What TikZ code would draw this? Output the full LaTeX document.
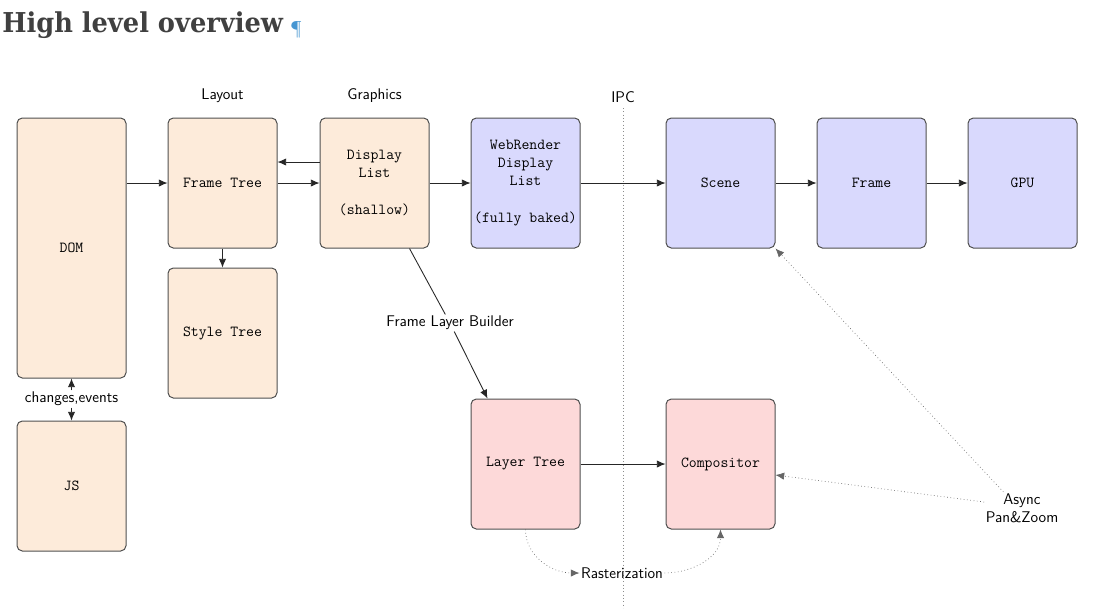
\documentclass[tikz,border=0pt]{standalone}
\usepackage{fontspec}
\newfontfamily\headfont{DejaVu Serif}
\usetikzlibrary{arrows.meta}
\definecolor{peach}{RGB}{253,235,218}
\definecolor{lilac}{RGB}{217,217,253}
\definecolor{pinkish}{RGB}{253,217,217}
\definecolor{boxline}{RGB}{80,80,80}
\definecolor{headgray}{RGB}{64,64,64}
\definecolor{pilcrow}{RGB}{70,150,210}
\tikzset{
  box/.style={draw=boxline, line width=0.75pt, rounded corners=4pt, minimum width=81.75pt, minimum height=97.5pt, inner sep=0pt, align=center, font=\fontsize{11.5}{13.6}\selectfont\ttfamily},
  orangebox/.style={box, fill=peach},
  bluebox/.style={box, fill=lilac},
  redbox/.style={box, fill=pinkish},
  lbl/.style={font=\fontsize{11.6}{13.5}\selectfont\sffamily, inner sep=1pt, align=center},
  conn/.style={draw=black!85, line width=0.65pt, -{Latex[length=6.5pt,width=5.5pt]}},
  dotconn/.style={draw=black!60, line width=0.5pt, dotted, -{Latex[length=6.5pt,width=5.5pt]}}
}
\begin{document}
\begin{tikzpicture}[x=0.75pt,y=-0.75pt]
\useasboundingbox[fill=white] (0,0) rectangle (1094,608);
% heading
\node[anchor=base west, inner sep=0pt, text=headgray, font=\headfont\bfseries\fontsize{20.5}{24}\selectfont] (head) at (2,32) {\scalebox{0.94}[1]{High level overview}};
\node[anchor=base west, inner sep=0pt, text=pilcrow, font=\fontsize{14}{16}\selectfont] (pil) at (290,34) {¶};
% IPC line
\coordinate (ipctop) at (623,108);
\coordinate (ipcbot) at (623,608);
\draw[black!45, dotted, line width=0.5pt] (ipctop) -- (ipcbot);
% labels
\node[lbl] (layout) at (222.5,96) {Layout};
\node[lbl] (graphics) at (374.5,96) {Graphics};
\node[lbl] (ipc) at (623,97) {IPC};
% boxes
\node[orangebox, minimum height=195pt] (dom) at (71.5,248) {DOM};
\node[orangebox] (js) at (71.5,486) {JS};
\node[orangebox] (ft) at (222.5,183) {Frame Tree};
\node[orangebox] (st) at (222.5,333) {Style Tree};
\node[orangebox] (dl) at (374.5,183) {Display\\List\\[13.6pt](shallow)};
\node[bluebox] (wr) at (525.5,183) {WebRender\\Display\\List\\[13.6pt](fully baked)};
\node[bluebox] (scene) at (720.5,183) {Scene};
\node[bluebox] (frame) at (871.5,183) {Frame};
\node[bluebox] (gpu) at (1022.5,183) {GPU};
\node[redbox] (lt) at (525.5,464) {Layer Tree};
\node[redbox] (comp) at (720.5,464) {Compositor};
% other labels
\node[lbl] (ce) at (71.5,399) {changes,events};
\node[lbl, fill=white] (flb) at (450,323) {Frame Layer Builder};
\node[lbl] (async) at (1022,508) {Async\\Pan\&Zoom};
\node[lbl] (rast) at (622,573) {Rasterization};
% connectors
\draw[conn] (dom.east |- ft.west) -- (ft.west);
\draw[conn] (ft.east) -- (dl.west);
\draw[conn] ([yshift=15.75pt]dl.west) -- ([yshift=15.75pt]ft.east);
\draw[conn] (dl.east) -- (wr.west);
\draw[conn] (wr.east) -- (scene.west);
\draw[conn] (scene.east) -- (frame.west);
\draw[conn] (frame.east) -- (gpu.west);
\draw[conn] (ft.south) -- (st.north);
\draw[draw=black!85, line width=0.65pt] ([xshift=26.25pt]dl.south) -- (flb);
\draw[conn] (flb) -- ([xshift=-28.5pt]lt.north);
\draw[conn] (lt.east) -- (comp.west);
\draw[conn] (ce.north) -- (dom.south);
\draw[conn] (ce.south) -- (js.north);
\draw[dotconn] ([xshift=-14pt]async.north) -- (scene.south east);
\draw[dotconn] ([yshift=4.5pt]async.west) -- ([yshift=-8.25pt]comp.east);
\draw[dotconn] (lt.south) to[out=-90,in=180] (rast.west);
\draw[dotconn] (rast.east) to[out=0,in=-90] (comp.south);
\end{tikzpicture}
\end{document}
